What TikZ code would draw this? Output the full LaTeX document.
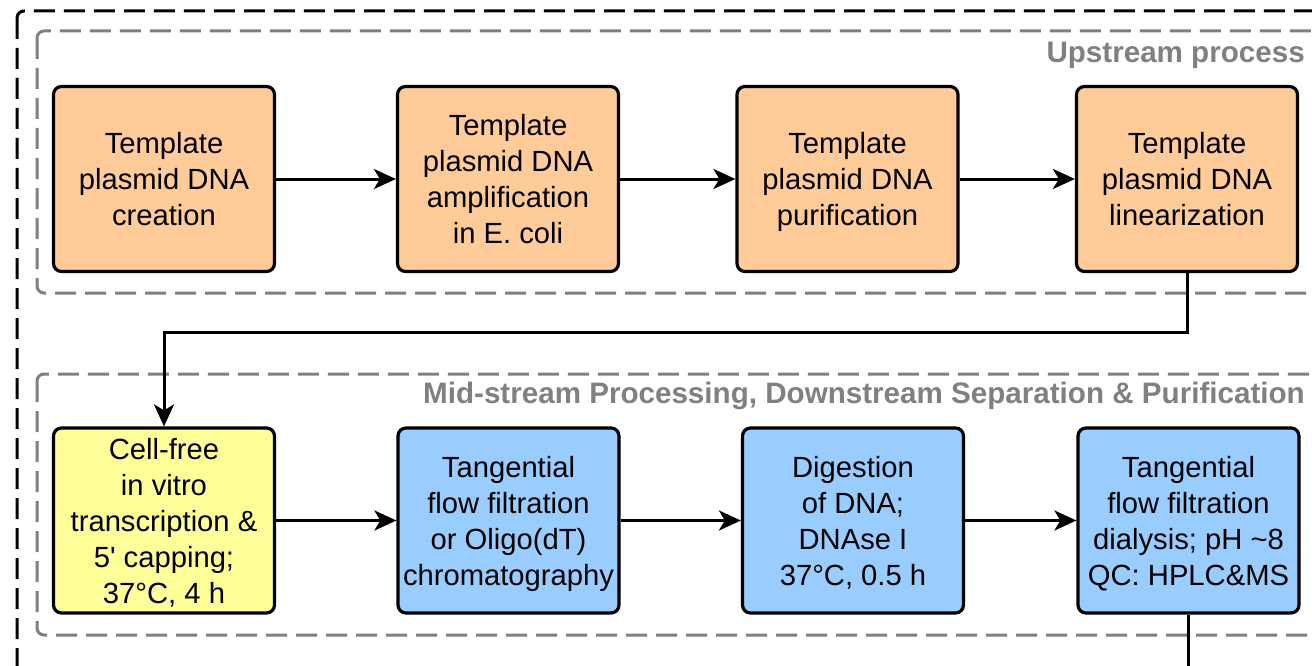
\documentclass[tikz,border=0pt]{standalone}
\usepackage{fontspec}
\setmainfont{Liberation Sans}
\usetikzlibrary{arrows.meta}
\definecolor{orangefill}{RGB}{255,204,153}
\definecolor{yellowfill}{RGB}{255,255,153}
\definecolor{bluefill}{RGB}{153,204,255}
\definecolor{groupgray}{RGB}{128,128,128}
\begin{document}
\begin{tikzpicture}[x=1pt,y=-1pt,
  stepbox/.style={draw=black, line width=3.2pt, rounded corners=8pt,
    minimum width=221pt, minimum height=185pt, inner sep=0pt, align=center,
    font=\fontsize{29.2}{36}\selectfont, text depth=-4pt},
  outerdash/.style={draw=black, line width=3pt, dash pattern=on 21pt off 9pt, rounded corners=7pt},
  groupdash/.style={draw=groupgray, line width=3pt, dash pattern=on 21pt off 9pt, rounded corners=7pt},
  grouplabel/.style={text=groupgray, font=\bfseries\fontsize{29.6}{34}\selectfont, inner sep=0pt},
  flow/.style={draw=black, line width=3pt, -{Stealth[length=22pt,width=20pt,inset=6pt]}},
  plainline/.style={draw=black, line width=3pt}
]
\useasboundingbox (0,0) rectangle (1312,666);
% group frames
\draw[outerdash] (17,11) rectangle (1345,720);
\draw[groupdash] (37,31) rectangle (1335,293);
\draw[groupdash] (37,374) rectangle (1335,635);
\node[grouplabel, anchor=base east] (uplabel) at (1305,63) {Upstream process};
\node[grouplabel, anchor=base east] (midlabel) at (1305,403) {Mid-stream Processing, Downstream Separation \& Purification};
% upstream row
\node[stepbox, fill=orangefill] (t1) at (164,179) {Template\\plasmid DNA\\creation};
\node[stepbox, fill=orangefill] (t2) at (508,179) {Template\\plasmid DNA\\amplification\\in E. coli};
\node[stepbox, fill=orangefill] (t3) at (847.5,179) {Template\\plasmid DNA\\purification};
\node[stepbox, fill=orangefill] (t4) at (1187,179) {Template\\plasmid DNA\\linearization};
% mid/downstream row
\node[stepbox, fill=yellowfill] (p1) at (164,520.5) {Cell-free\\in vitro\\transcription \&\\5\textquotesingle{} capping;\\37°C, 4 h};
\node[stepbox, fill=bluefill] (p2) at (508.5,520.5) {Tangential\\flow filtration\\or Oligo(dT)\\chromatography};
\node[stepbox, fill=bluefill] (p3) at (853,520.5) {Digestion\\of DNA;\\DNAse I\\37°C, 0.5 h};
\node[stepbox, fill=bluefill] (p4) at (1188.5,520.5) {Tangential\\flow filtration\\dialysis; pH \textasciitilde8\\QC: HPLC\&MS};
% connectors
\draw[flow] (t1) -- (t2);
\draw[flow] (t2) -- (t3);
\draw[flow] (t3) -- (t4);
\draw[flow] (t4.south) -- ++(0,59) -| (p1.north);
\draw[flow] (p1) -- (p2);
\draw[flow] (p2) -- (p3);
\draw[flow] (p3) -- (p4);
\coordinate (exitpt) at (1188.5,700);
\draw[plainline] (p4.south) -- (exitpt);
\end{tikzpicture}
\end{document}
